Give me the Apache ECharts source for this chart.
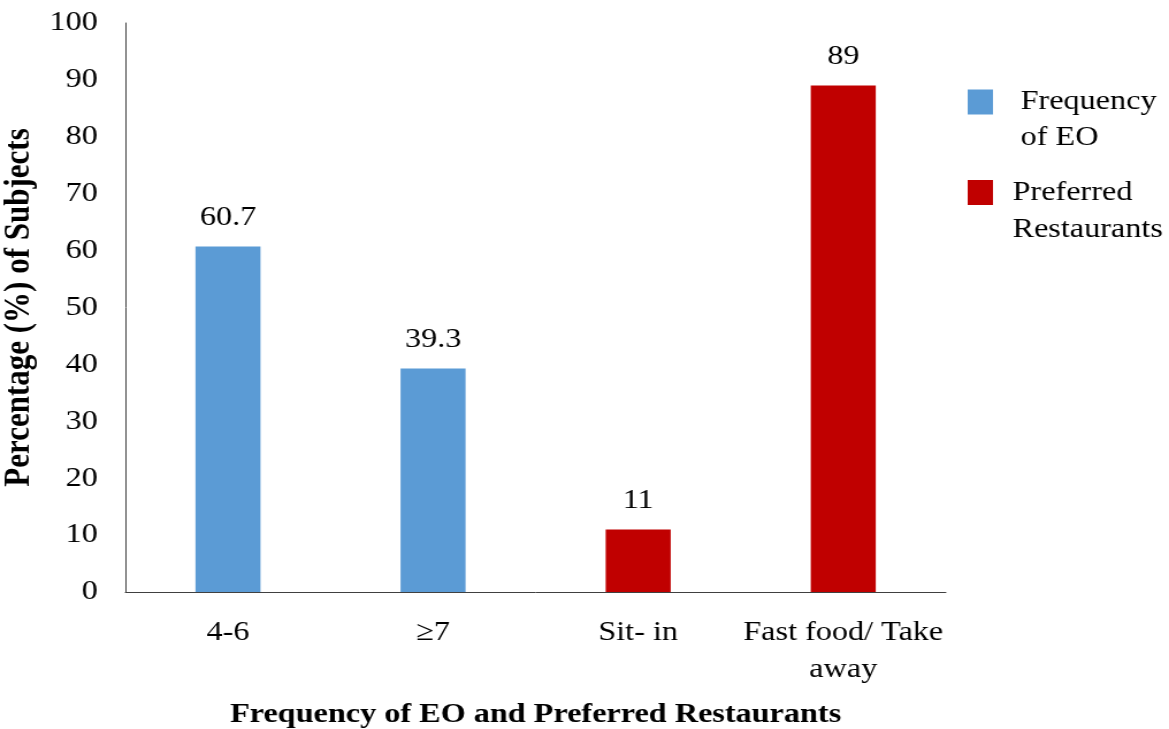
<!DOCTYPE html>
<html>
<head>
<meta charset="utf-8">
<title>Frequency of EO and Preferred Restaurants</title>
<script src="https://cdn.jsdelivr.net/npm/echarts@6/dist/echarts.min.js"></script>
<style>
  html, body { margin: 0; padding: 0; background: #ffffff; overflow: hidden; }
  /* The chart is laid out on a narrower canvas and widened to the page width,
     giving the wide serif lettering of the original figure. */
  #chart { width: 1016px; height: 729px; transform: scaleX(1.1506); transform-origin: 0 0; }
</style>
</head>
<body>
<div id="chart"></div>
<script>
// Categories along the x axis
const categories = ['4-6', '\u22657', 'Sit- in', 'Fast food/ Take\naway'];
// Percentage of subjects per group
const frequencyEO = [60.7, 39.3, null, null];
const preferredRestaurants = [null, null, 11, 89];
// Value axis range
const yTicks = { min: 0, max: 100, interval: 10 };

const FONT = '"Liberation Serif", "Times New Roman", serif';
const FS = 28;

const chart = echarts.init(document.getElementById('chart'), null, { renderer: 'canvas', width: 1016, height: 729 });

const labelStyle = {
  show: true,
  position: 'top',
  distance: 15,
  fontFamily: FONT,
  fontSize: FS,
  color: '#000'
};

chart.setOption({
  animation: false,
  backgroundColor: '#ffffff',
  grid: { left: 109, right: 194, top: 23, bottom: 137, containLabel: false, outerBoundsMode: 'none' },
  legend: [
    {
      data: ['Frequency of EO'],
      orient: 'vertical',
      left: 841,
      top: 48,
      padding: 0,
      itemWidth: 22,
      itemHeight: 25,
      icon: 'rect',
      formatter: () => '\nFrequency\nof EO',
      textStyle: { fontFamily: FONT, fontSize: FS, color: '#000', lineHeight: 36, padding: [0, 0, 0, 19] }
    },
    {
      data: ['Preferred Restaurants'],
      orient: 'vertical',
      left: 841,
      top: 137,
      padding: 0,
      itemWidth: 22,
      itemHeight: 25,
      icon: 'rect',
      formatter: () => '\nPreferred\nRestaurants',
      textStyle: { fontFamily: FONT, fontSize: FS, color: '#000', lineHeight: 37, padding: [0, 0, 0, 12] }
    }
  ],
  xAxis: {
    type: 'category',
    data: categories,
    name: 'Frequency of EO and Preferred Restaurants',
    nameLocation: 'middle',
    nameGap: 109,
    nameTextStyle: { fontFamily: FONT, fontSize: FS, fontWeight: 'bold', color: '#000' },
    axisLine: { lineStyle: { color: '#404040', width: 1 } },
    axisTick: { show: false },
    axisLabel: { fontFamily: FONT, fontSize: FS, color: '#000', margin: 22, lineHeight: 37, interval: 0 }
  },
  yAxis: {
    type: 'value',
    min: yTicks.min,
    max: yTicks.max,
    interval: yTicks.interval,
    name: 'Percentage (%) of Subjects',
    nameLocation: 'middle',
    nameGap: 67,
    nameTextStyle: { fontFamily: FONT, fontSize: 31, fontWeight: 'bold', color: '#000' },
    axisLine: { show: true, lineStyle: { color: '#404040', width: 1 } },
    axisTick: { show: false },
    splitLine: { show: false },
    axisLabel: { fontFamily: FONT, fontSize: FS, color: '#000', margin: 24 }
  },
  series: [
    {
      name: 'Frequency of EO',
      type: 'bar',
      data: frequencyEO,
      barWidth: 56.5,
      barGap: '-100%',
      itemStyle: { color: '#5B9BD5' },
      label: labelStyle
    },
    {
      name: 'Preferred Restaurants',
      type: 'bar',
      data: preferredRestaurants,
      barWidth: 56.5,
      barGap: '-100%',
      itemStyle: { color: '#C00000' },
      label: labelStyle
    }
  ]
});
</script>
</body>
</html>
